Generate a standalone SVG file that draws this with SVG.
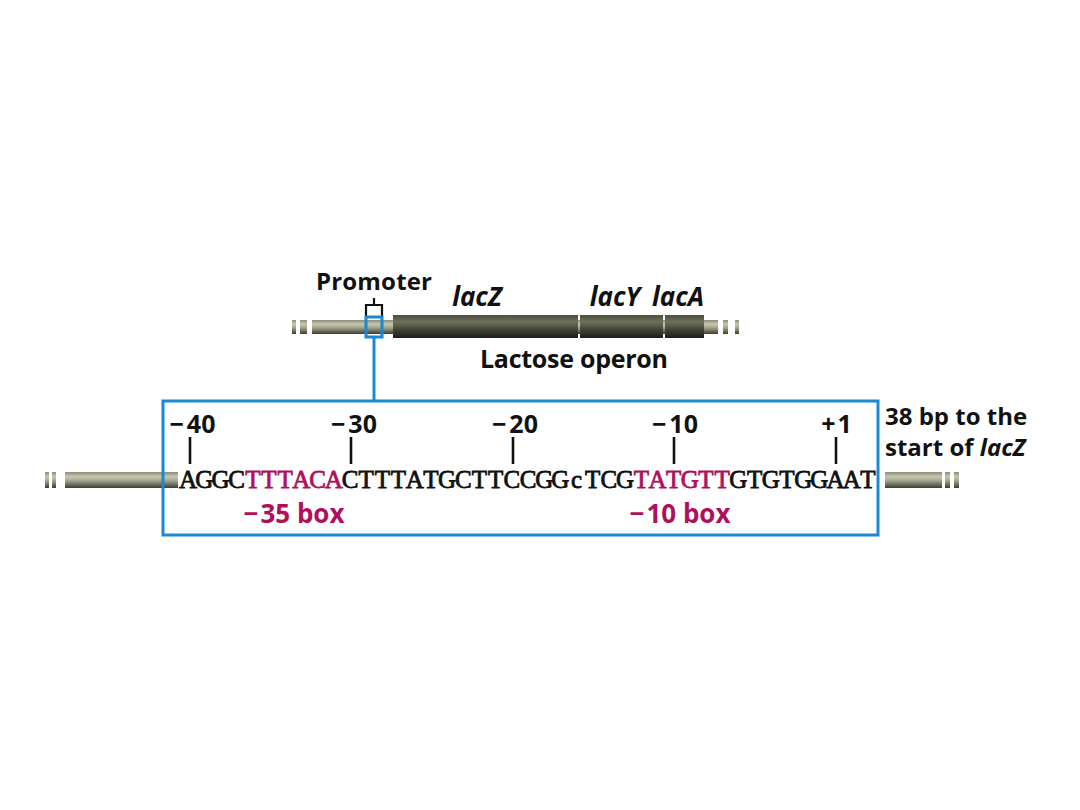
<svg xmlns="http://www.w3.org/2000/svg" width="1080" height="810" viewBox="0 0 1080 810">
<defs>
<linearGradient id="thin" x1="0" y1="0" x2="0" y2="1">
<stop offset="0" stop-color="#8c8c78"/>
<stop offset="0.3" stop-color="#c9c9b2"/>
<stop offset="0.55" stop-color="#a3a38c"/>
<stop offset="1" stop-color="#3c3c30"/>
</linearGradient>
<linearGradient id="thick" x1="0" y1="0" x2="0" y2="1">
<stop offset="0" stop-color="#4a4c3c"/>
<stop offset="0.3" stop-color="#6e725a"/>
<stop offset="0.6" stop-color="#44483a"/>
<stop offset="1" stop-color="#1c1e16"/>
</linearGradient>
<style>
.lbl{font-family:"Open Sans","Liberation Sans",sans-serif;font-weight:700;fill:#111}
.it{font-style:italic}
.mag{fill:#b0105a}
.seq{font-family:"Liberation Serif","Times New Roman",serif;font-size:25px;fill:#111;stroke:#111;stroke-width:0.8}
.tick{stroke:#111;stroke-width:2.6}
.blue{fill:none;stroke:#1b88d2;stroke-width:3}
</style>
</defs>
<g id="top-dna">
<rect x="292" y="320" width="4" height="14" fill="url(#thin)"/>
<rect x="300" y="320" width="7" height="14" fill="url(#thin)"/>
<rect x="312" y="320" width="406" height="14" fill="url(#thin)"/>
<rect x="723" y="320" width="5" height="14" fill="url(#thin)"/>
<rect x="735" y="320" width="4" height="14" fill="url(#thin)"/>
<rect x="393" y="315" width="185" height="23" fill="url(#thick)"/>
<rect x="580" y="315" width="83" height="23" fill="url(#thick)"/>
<rect x="665" y="315" width="39" height="23" fill="url(#thick)"/>
</g>
<g id="promoter">
<path d="M366 317 V305 H382 V317 M374 305 V298" fill="none" stroke="#111" stroke-width="2.2"/>
<rect x="366" y="317" width="16" height="20" class="blue"/>
<text x="374" y="290" font-size="24" text-anchor="middle" class="lbl" textLength="116" lengthAdjust="spacing">Promoter</text>
</g>
<g id="genes">
<text x="477" y="306" font-size="26" text-anchor="middle" class="lbl it">lacZ</text>
<text x="615" y="306" font-size="26" text-anchor="middle" class="lbl it">lacY</text>
<text x="678" y="306" font-size="26" text-anchor="middle" class="lbl it">lacA</text>
<text x="574" y="368" font-size="25" text-anchor="middle" class="lbl" textLength="188" lengthAdjust="spacing">Lactose operon</text>
</g>
<g id="connectors">
<line x1="374" y1="337" x2="374" y2="400" stroke="#1b88d2" stroke-width="3"/>
</g>
<g id="bottom-dna">
<rect x="45" y="472" width="4" height="16" fill="url(#thin)"/>
<rect x="52" y="472" width="4" height="16" fill="url(#thin)"/>
<rect x="65" y="472" width="113" height="16" fill="url(#thin)"/>
<rect x="885" y="472" width="57" height="16" fill="url(#thin)"/>
<rect x="945" y="472" width="5" height="16" fill="url(#thin)"/>
<rect x="954" y="472" width="5" height="16" fill="url(#thin)"/>
</g>
<g id="zoom-box">
<rect x="163" y="401" width="715" height="134" class="blue"/>
</g>
<g id="positions">
<line x1="190" y1="437" x2="190" y2="464" class="tick"/>
<line x1="351" y1="437" x2="351" y2="464" class="tick"/>
<line x1="513" y1="437" x2="513" y2="464" class="tick"/>
<line x1="674" y1="437" x2="674" y2="464" class="tick"/>
<line x1="836" y1="437" x2="836" y2="464" class="tick"/>
<text x="192.5" y="433" font-size="25" text-anchor="middle" class="lbl">−<tspan dx="3">40</tspan></text>
<text x="354" y="433" font-size="25" text-anchor="middle" class="lbl">−<tspan dx="3">30</tspan></text>
<text x="515" y="433" font-size="25" text-anchor="middle" class="lbl">−<tspan dx="3">20</tspan></text>
<text x="675" y="433" font-size="25" text-anchor="middle" class="lbl">−<tspan dx="3">10</tspan></text>
<text x="836.5" y="433" font-size="25" text-anchor="middle" class="lbl">+<tspan dx="2">1</tspan></text>
</g>
<g id="sequence">
<text y="488" class="seq" text-anchor="middle"><tspan x="188.1 204.3 220.5 236.7">AGGC</tspan><tspan class="mag" stroke="#b0105a" x="252.8 269.0 285.2 301.4 317.6 333.8">TTTACA</tspan><tspan x="350.0 366.1 382.3 398.5 414.7 430.9 447.1 463.3 479.4 495.6 511.8 528.0 544.2 560.4 576.6 592.7 608.9 625.1">CTTTATGCTTCCGGcTCG</tspan><tspan class="mag" stroke="#b0105a" x="641.3 657.5 673.7 689.9 706.0 722.2">TATGTT</tspan><tspan x="738.4 754.6 770.8 787.0 803.2 819.4 835.5 851.7 867.9">GTGTGGAAT</tspan></text>
</g>
<g id="boxes">
<text x="294" y="523" font-size="26" text-anchor="middle" class="lbl mag">−<tspan dx="2">35 box</tspan></text>
<text x="680" y="523" font-size="26" text-anchor="middle" class="lbl mag">−<tspan dx="2">10 box</tspan></text>
</g>
<g id="note">
<text x="885" y="425" font-size="24" class="lbl">38 bp to the</text>
<text x="885" y="456" font-size="24" class="lbl">start of <tspan class="it">lacZ</tspan></text>
</g>
</svg>
